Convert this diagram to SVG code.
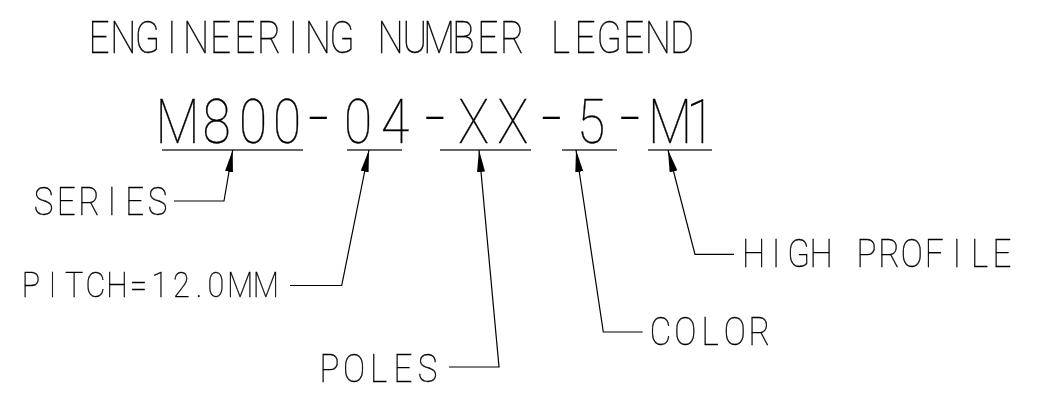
<svg xmlns="http://www.w3.org/2000/svg" width="1037" height="394" viewBox="0 0 1037 394">
<style>
text{font-family:"Roboto","Liberation Sans",sans-serif;font-weight:100;fill:#000;stroke:#000;stroke-width:0.35;text-anchor:middle;}
.t{font-size:43.5px;}
.pn{font-size:60.5px;}
.dash{font-size:88px;stroke-width:0;}
.lb{font-size:39px;}
.lb2{font-size:36px;}
.ul{stroke:#333;stroke-width:1.5;fill:none;}
.ld{stroke:#000;stroke-width:1.2;fill:none;marker-end:url(#ah);}
.g{filter:url(#nf);}
</style>
<defs>
<filter id="nf" x="-5%" y="-20%" width="110%" height="140%"><feOffset dx="0" dy="0"/></filter>
<marker id="ah" viewBox="0 0 22 8" refX="22" refY="4" markerWidth="22" markerHeight="8" markerUnits="userSpaceOnUse" orient="auto">
<path d="M0,0 L22,4 L0,8 z" fill="#000"/>
</marker>
</defs>
<rect width="1037" height="394" fill="#fff"/>
<g id="title" class="g"><text class="t" transform="scale(0.85,1)" y="53" x="116.5 145.1 173.6 202.2 230.8 259.4 288 316.6 345.2 373.8 402.4 430.9 459.5 488.1 516.7 545.3 573.9 602.5 631.1 659.6 688.2 716.8 745.4 774 802.6">ENGINEERING NUMBER LEGEND</text></g>
<g id="part-number">
<g class="g"><text class="pn" transform="scale(0.85,1)" y="143" x="208.8 254.7 297.6 337.6 374.7 421.2 464.7 511.8 557.1 603.5 648.8 695.3 741.2 788.2 824.1">M800<tspan class="dash" y="146">-</tspan><tspan y="143">04</tspan><tspan class="dash" y="146">-</tspan><tspan y="143">XX</tspan><tspan class="dash" y="146">-</tspan><tspan y="143">5</tspan><tspan class="dash" y="146">-</tspan><tspan y="143">M1</tspan></text></g>
<path class="ul" d="M162,150H303M347,150H402M440,150H531M562,150H617M648,150H712"/>
</g>
<g id="series" class="g"><text class="lb" transform="scale(0.85,1)" y="215" x="51.2 78 104.8 131.6 158.5 185.3">SERIES</text></g>
<g id="pitch" class="g"><text class="lb2" transform="scale(0.85,1)" y="297" x="36.5 61.8 87.1 112.4 137.6 162.9 188.2 213.5 234.1 254.1 282.4 312.9">PITCH=12.0MM</text></g>
<g id="poles" class="g"><text class="lb" transform="scale(0.85,1)" y="382" x="387.6 416.5 445.3 474.1 502.9">POLES</text></g>
<g id="color" class="g"><text class="lb" transform="scale(0.85,1)" y="345" x="777.1 806.2 835.3 864.4 893.5">COLOR</text></g>
<g id="high-profile" class="g"><text class="lb" transform="scale(0.85,1)" y="267" x="886.5 913.1 939.6 966.2 992.8 1019.4 1046 1072.6 1099.2 1125.8 1152.4 1178.9">HIGH PROFILE</text></g>
<g id="connectors">
<path class="ld" d="M174,201H224L232.7,150"/>
<path class="ld" d="M290,285.5H341.7L369,150"/>
<path class="ld" d="M449,367H499L479,150"/>
<path class="ld" d="M642.7,332H603.3L576,150"/>
<path class="ld" d="M734,254.3H695L668,150"/>
</g>
</svg>
